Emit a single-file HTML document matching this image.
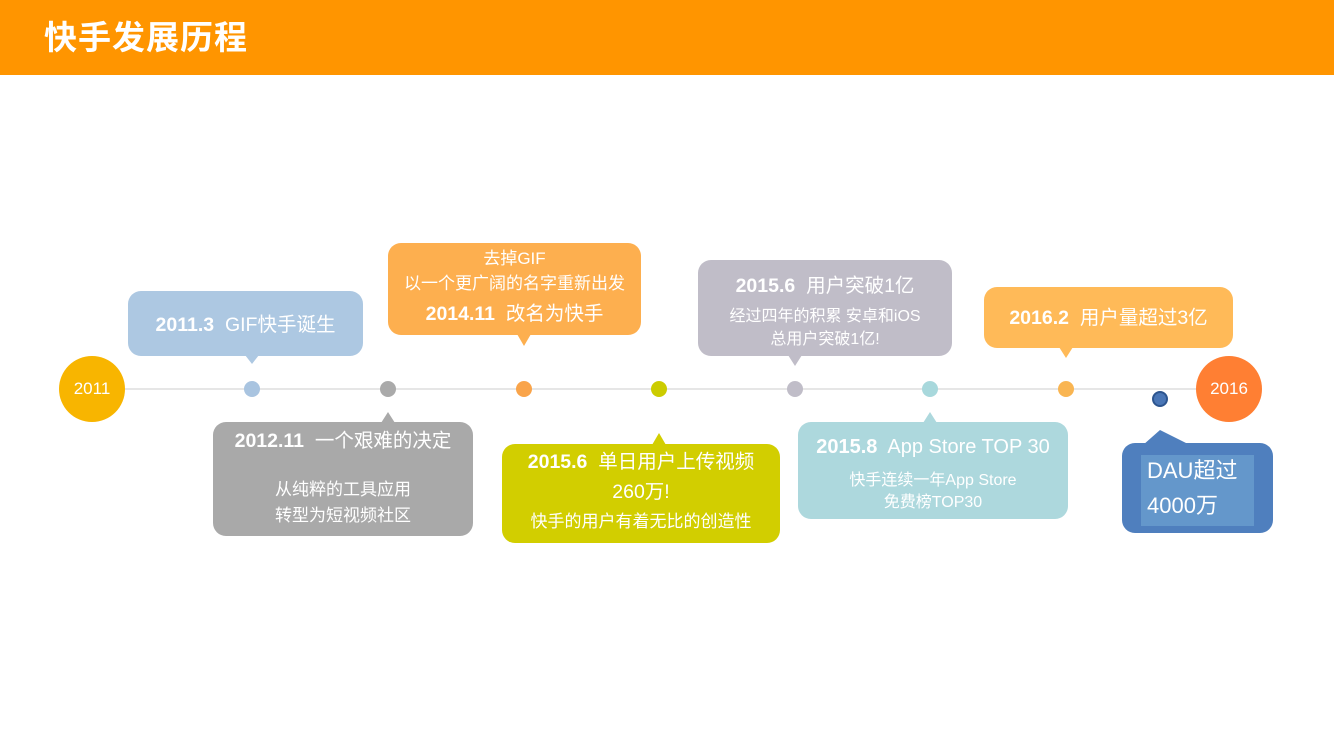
<!DOCTYPE html>
<html><head><meta charset="utf-8"><style>
*{margin:0;padding:0;box-sizing:border-box}
body{width:1334px;height:750px;background:#fff;position:relative;overflow:hidden;font-family:"Liberation Sans","Noto Sans CJK SC",sans-serif;color:#fff}
.hd{position:absolute;left:0;top:0;width:1334px;height:75px;background:#FF9500}
.ttl{position:absolute;left:44px;top:20px;font-size:33px;line-height:36px;font-weight:bold;letter-spacing:1px}
.b{position:absolute;border-radius:13px}
.t{position:absolute;text-align:center;white-space:nowrap}
.dot{position:absolute;width:16px;height:16px;border-radius:50%}
.tri{position:absolute;width:0;height:0}
.c{position:absolute;width:66px;height:66px;border-radius:50%;font-size:17px;line-height:66px;text-align:center}
</style></head><body>
<div class="hd"></div><div class="ttl">快手发展历程</div>

<div style="position:absolute;left:125px;top:388px;width:1072px;height:2px;background:#e6e6e6"></div>
<div class="c" style="left:59px;top:356px;background:#F8B500">2011</div>
<div class="c" style="left:1196px;top:356px;background:#FF7F33">2016</div>

<div class="dot" style="left:244px;top:381px;background:#A9C4E0"></div>
<div class="dot" style="left:380px;top:381px;background:#AAAAAA"></div>
<div class="dot" style="left:516px;top:381px;background:#F9A44A"></div>
<div class="dot" style="left:651px;top:381px;background:#CCCC00"></div>
<div class="dot" style="left:787px;top:381px;background:#C0BDC8"></div>
<div class="dot" style="left:922px;top:381px;background:#A8D8DC"></div>
<div class="dot" style="left:1058px;top:381px;background:#F9B552"></div>
<div class="dot" style="left:1152px;top:391px;background:#4a76b6;border:2px solid #2d558f"></div>

<!-- 1 -->
<div class="b" style="left:128px;top:291px;width:235px;height:65px;background:#ADC8E2"></div>
<div class="tri" style="left:245px;top:355px;border-left:7px solid transparent;border-right:7px solid transparent;border-top:9px solid #ADC8E2"></div>
<div class="t" style="left:128px;width:235px;top:313px;font-size:19.5px;line-height:24px"><b>2011.3</b>&nbsp; GIF快手诞生</div>

<!-- 2 -->
<div class="b" style="left:213px;top:422px;width:260px;height:114px;background:#A9A9A9"></div>
<div class="tri" style="left:381px;top:412px;border-left:7px solid transparent;border-right:7px solid transparent;border-bottom:11px solid #A9A9A9"></div>
<div class="t" style="left:213px;width:260px;top:429px;font-size:19.5px;line-height:24px"><b>2012.11</b>&nbsp; 一个艰难的决定</div>
<div class="t" style="left:213px;width:260px;top:479px;font-size:17px;line-height:22px">从纯粹的工具应用</div>
<div class="t" style="left:213px;width:260px;top:505px;font-size:17px;line-height:22px">转型为短视频社区</div>

<!-- 3 -->
<div class="b" style="left:388px;top:243px;width:253px;height:92px;background:#FDAF4F"></div>
<div class="tri" style="left:517px;top:334px;border-left:7px solid transparent;border-right:7px solid transparent;border-top:12px solid #FDAF4F"></div>
<div class="t" style="left:388px;width:253px;top:248px;font-size:17px;line-height:22px">去掉GIF</div>
<div class="t" style="left:388px;width:253px;top:273px;font-size:17px;line-height:22px">以一个更广阔的名字重新出发</div>
<div class="t" style="left:388px;width:253px;top:302px;font-size:19.5px;line-height:24px"><b>2014.11</b>&nbsp; 改名为快手</div>

<!-- 4 -->
<div class="b" style="left:502px;top:444px;width:278px;height:99px;background:#D2CE00"></div>
<div class="tri" style="left:652px;top:433px;border-left:7px solid transparent;border-right:7px solid transparent;border-bottom:12px solid #D2CE00"></div>
<div class="t" style="left:502px;width:278px;top:450px;font-size:19.5px;line-height:24px"><b>2015.6</b>&nbsp; 单日用户上传视频</div>
<div class="t" style="left:502px;width:278px;top:480px;font-size:19.5px;line-height:24px">260万!</div>
<div class="t" style="left:502px;width:278px;top:511px;font-size:17px;line-height:22px">快手的用户有着无比的创造性</div>

<!-- 5 -->
<div class="b" style="left:698px;top:260px;width:254px;height:96px;background:#C0BDC8"></div>
<div class="tri" style="left:788px;top:355px;border-left:7px solid transparent;border-right:7px solid transparent;border-top:11px solid #C0BDC8"></div>
<div class="t" style="left:698px;width:254px;top:274px;font-size:19.5px;line-height:24px"><b>2015.6</b>&nbsp; 用户突破1亿</div>
<div class="t" style="left:698px;width:254px;top:307px;font-size:16px;line-height:20px">经过四年的积累 安卓和iOS</div>
<div class="t" style="left:698px;width:254px;top:330px;font-size:16px;line-height:20px">总用户突破1亿!</div>

<!-- 6 -->
<div class="b" style="left:798px;top:422px;width:270px;height:97px;background:#ADD8DD"></div>
<div class="tri" style="left:923px;top:412px;border-left:7px solid transparent;border-right:7px solid transparent;border-bottom:11px solid #ADD8DD"></div>
<div class="t" style="left:798px;width:270px;top:435px;font-size:20px;line-height:24px"><b>2015.8</b>&nbsp; App Store TOP 30</div>
<div class="t" style="left:798px;width:270px;top:471px;font-size:16px;line-height:20px">快手连续一年App Store</div>
<div class="t" style="left:798px;width:270px;top:493px;font-size:16px;line-height:20px">免费榜TOP30</div>

<!-- 7 -->
<div class="b" style="left:984px;top:287px;width:249px;height:61px;background:#FFBA58"></div>
<div class="tri" style="left:1059px;top:347px;border-left:7px solid transparent;border-right:7px solid transparent;border-top:11px solid #FFBA58"></div>
<div class="t" style="left:984px;width:249px;top:306px;font-size:19.5px;line-height:24px"><b>2016.2</b>&nbsp; 用户量超过3亿</div>

<!-- 8 -->
<div class="b" style="left:1122px;top:443px;width:151px;height:90px;background:#4F7FBE"></div>
<svg style="position:absolute;left:0;top:0" width="1334" height="750"><polygon points="1143,445 1160,430 1190,445" fill="#4F7FBE"/></svg>
<div style="position:absolute;left:1141px;top:455px;width:113px;height:71px;background:#6497CB"></div>
<div class="t" style="left:1147px;top:458px;font-size:22px;line-height:26px;text-align:left">DAU超过</div>
<div class="t" style="left:1147px;top:493px;font-size:22px;line-height:26px;text-align:left">4000万</div>
</body></html>
